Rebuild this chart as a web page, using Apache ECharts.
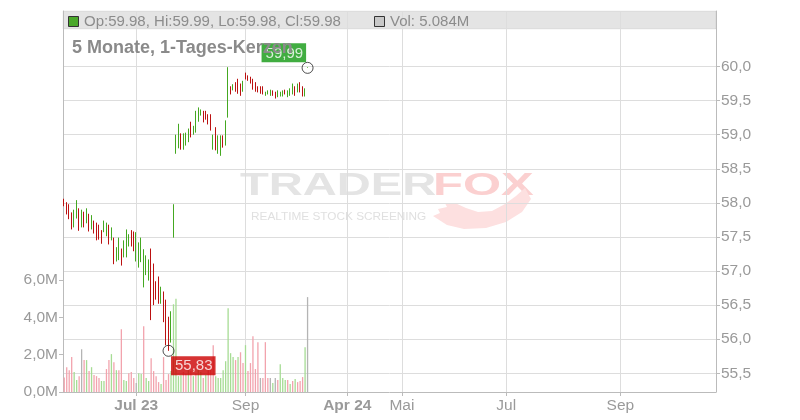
<!DOCTYPE html>
<html><head><meta charset="utf-8">
<script src="https://cdn.jsdelivr.net/npm/echarts@6/dist/echarts.min.js"></script>
<style>html,body{margin:0;padding:0;background:#fff}#c{width:800px;height:420px}</style>
</head><body><div id="c"></div>
<script>
// ---- data ----
const slotCount = 263;
const xLabelIdx = [29, 73, 114, 136, 178, 224];
const xLabelText = ['Jul 23', 'Sep', 'Apr 24', 'Mai', 'Jul', 'Sep'];
const xLabelBold = [true, false, true, false, false, false];

const opens = [
58.06,58.01,57.98,57.86,57.64,57.77,57.92,57.64,57.87,57.70,
57.84,57.61,57.74,57.71,57.68,57.60,57.57,57.51,57.68,57.45,
57.49,57.14,57.16,57.33,57.20,57.20,57.36,57.60,57.58,57.14,
57.05,57.13,56.76,56.94,56.86,57.33,57.11,56.85,56.92,56.52,
56.70,56.58,56.33,55.95,57.49,58.72,58.80,59.02,58.78,58.84,
58.89,59.19,59.00,59.03,59.19,59.28,59.35,59.35,59.30,59.30,
58.78,59.11,58.72,58.69,58.99,58.84,59.25,59.71,59.65,59.77,
59.82,59.75,59.63,59.91,59.87,59.85,59.82,59.77,59.71,59.71,
59.71,59.57,59.59,59.57,59.65,59.63,59.55,59.56,59.56,59.66,
59.55,59.57,59.59,59.71,59.62,59.77,59.71,59.56,59.98];
const closes = [
57.95,57.83,57.76,57.61,57.90,58.04,57.59,57.90,57.64,57.92,
57.58,57.82,57.55,57.45,57.46,57.40,57.74,57.71,57.39,57.64,
57.10,57.35,57.49,57.08,57.45,57.61,57.54,57.36,57.29,57.57,
57.42,57.49,57.32,57.23,57.17,56.28,56.50,56.58,56.52,56.77,
56.25,55.91,55.83,56.41,57.98,59.00,59.16,58.78,59.02,59.03,
59.09,58.96,59.13,59.35,59.40,59.37,59.18,59.22,59.15,59.06,
59.00,58.77,58.99,58.99,58.81,59.21,59.99,59.59,59.74,59.63,
59.60,59.57,59.79,59.81,59.79,59.75,59.66,59.63,59.62,59.60,
59.59,59.63,59.65,59.66,59.57,59.53,59.65,59.63,59.65,59.59,
59.65,59.68,59.75,59.57,59.75,59.62,59.56,59.68,59.98];
const lows = [
57.95,57.83,57.76,57.61,57.64,57.77,57.59,57.64,57.64,57.70,
57.58,57.61,57.55,57.45,57.46,57.40,57.57,57.51,57.39,57.45,
57.10,57.14,57.16,57.08,57.20,57.20,57.36,57.36,57.29,57.14,
57.05,57.13,56.76,56.94,56.86,56.28,56.50,56.58,56.52,56.52,
56.25,55.91,55.83,55.95,57.49,58.72,58.80,58.78,58.78,58.84,
58.89,58.96,59.00,59.03,59.19,59.28,59.18,59.22,59.15,59.06,
58.78,58.77,58.72,58.69,58.81,58.84,59.25,59.59,59.65,59.63,
59.60,59.57,59.63,59.81,59.79,59.75,59.66,59.63,59.62,59.60,
59.59,59.57,59.59,59.57,59.57,59.53,59.55,59.56,59.56,59.59,
59.55,59.57,59.59,59.57,59.62,59.62,59.56,59.56,59.98];
const highs = [
58.06,58.01,57.98,57.86,57.90,58.04,57.92,57.90,57.87,57.92,
57.84,57.82,57.74,57.71,57.68,57.60,57.74,57.71,57.68,57.64,
57.49,57.35,57.49,57.33,57.45,57.61,57.54,57.60,57.58,57.57,
57.42,57.49,57.32,57.23,57.17,57.33,57.11,56.85,56.92,56.77,
56.70,56.58,56.33,56.41,57.98,59.00,59.16,59.02,59.02,59.03,
59.09,59.19,59.13,59.35,59.40,59.37,59.35,59.35,59.30,59.30,
59.00,59.11,58.99,58.99,58.99,59.21,59.99,59.71,59.74,59.77,
59.82,59.75,59.79,59.91,59.87,59.85,59.82,59.77,59.71,59.71,
59.71,59.63,59.65,59.66,59.65,59.63,59.65,59.63,59.65,59.66,
59.65,59.68,59.75,59.71,59.75,59.77,59.71,59.68,59.99];
// volume in millions
const volumes = [
0.78,1.33,1.17,1.87,1.07,0.64,0.85,2.29,1.71,1.71,
1.12,1.33,0.91,0.85,0.75,0.59,0.59,1.23,1.71,2.03,
1.60,1.17,1.17,3.36,0.64,0.59,1.01,1.07,0.75,0.48,
1.01,0.96,3.52,0.75,0.59,1.81,1.12,0.85,0.53,0.43,
1.87,0.64,0.96,1.12,4.70,5.00,0.85,0.90,1.07,0.96,
1.17,1.12,0.85,1.01,1.23,1.07,0.75,0.91,1.17,1.39,
2.51,0.85,0.75,0.75,1.17,1.65,4.48,2.08,1.87,1.71,
1.87,2.13,1.55,2.51,1.12,1.55,2.99,1.23,2.67,0.75,
0.75,2.67,0.75,0.75,0.48,0.75,0.64,1.49,0.75,0.64,
0.64,0.43,0.59,0.69,0.53,0.59,0.80,2.40,5.084];
// 1 = up (green), -1 = down (red), 0 = unchanged (gray)
const volDir = [
-1,-1,-1,-1,1,1,-1,0,-1,1,
-1,1,-1,-1,-1,1,1,-1,-1,1,
-1,1,-1,-1,1,1,-1,-1,-1,0,
1,1,-1,1,1,-1,-1,-1,-1,1,
-1,-1,-1,1,1,1,1,1,-1,-1,
1,-1,1,-1,1,1,-1,1,-1,-1,
-1,1,1,1,1,1,1,1,1,-1,
1,-1,-1,1,-1,-1,-1,-1,-1,0,
-1,-1,-1,0,1,0,-1,1,1,1,
-1,1,-1,1,-1,-1,-1,1,0];
const priceTicks = { min: 55.5, max: 60.0, step: 0.5 };
const volTicks = { min: 0, max: 6, step: 2 };
const lastIdx = 98, lastClose = 59.98, maxValue = 59.99;
const minIdx = 42, minValue = 55.83;
const headerTitle = '5 Monate, 1-Tages-Kerzen';

// ---- chart ----
const FONT = 'Liberation Sans, Arial, sans-serif';
const cats = Array.from({length: slotCount}, (_, i) => String(i));
const labelPos = {};
xLabelIdx.forEach((idx, k) => { labelPos[idx] = k; });
const isLabel = (i) => labelPos[i] !== undefined;
const fmtDe = (v, d) => v.toFixed(d).replace('.', ',');

const L = 63, R = 84;
const GREEN = '#44a821', RED = '#bb1111';
const volColors = { '1': '#a6dc94', '-1': '#f2a3ad', '0': '#b4b4b4' };
const AX_FS = 15.5;

const n = opens.length;
const headerText = 'Op:' + opens[n-1].toFixed(2) + ', Hi:' + highs[n-1].toFixed(2) +
  ', Lo:' + lows[n-1].toFixed(2) + ', Cl:' + closes[n-1].toFixed(2);
const volText = 'Vol: ' + volumes[n-1].toFixed(3) + 'M';

const chart = echarts.init(document.getElementById('c'), null, {renderer: 'canvas'});
const hiddenX = (g) => ({type: 'category', gridIndex: g, data: cats, boundaryGap: true, show: false});

chart.setOption({
  animation: false,
  backgroundColor: '#fff',
  textStyle: {fontFamily: FONT},
  title: {
    text: headerTitle, left: 72, top: 39, padding: 0, z: 20,
    textStyle: {fontFamily: FONT, fontSize: 18, fontWeight: 'bold', color: '#8a8a8a'}
  },
  grid: [
    {left: L, right: R, top: 11, bottom: 28},
    {left: L, right: R, top: 66.5, bottom: 46.7},
    {left: L, right: R, top: 280, bottom: 28}
  ],
  xAxis: [
    {
      type: 'category', gridIndex: 0, data: cats, boundaryGap: true,
      axisLine: {show: true, lineStyle: {color: '#bbbbbb'}},
      axisTick: {show: true, alignWithLabel: true, length: 4, interval: (i) => isLabel(i), lineStyle: {color: '#bbbbbb'}},
      axisLabel: {
        interval: (i) => isLabel(i), color: '#9a9a9a', fontSize: AX_FS, fontFamily: FONT, margin: 6,
        formatter: (v, i) => {
          const k = labelPos[i];
          if (k === undefined) return '';
          return xLabelBold[k] ? '{b|' + xLabelText[k] + '}' : xLabelText[k];
        },
        rich: {b: {fontWeight: 'bold', color: '#9a9a9a', fontSize: AX_FS, fontFamily: FONT}}
      },
      splitLine: {show: true, alignWithLabel: true, interval: (i) => isLabel(i), lineStyle: {color: '#dddddd'}}
    },
    hiddenX(1), hiddenX(2)
  ],
  yAxis: [
    {type: 'value', gridIndex: 0, position: 'left', min: 0, max: 1,
     axisLine: {show: true, lineStyle: {color: '#bbbbbb'}}, axisTick: {show: false}, axisLabel: {show: false}, splitLine: {show: false}},
    {type: 'value', gridIndex: 0, position: 'right', min: 0, max: 1,
     axisLine: {show: true, lineStyle: {color: '#bbbbbb'}}, axisTick: {show: false}, axisLabel: {show: false}, splitLine: {show: false}},
    {type: 'value', gridIndex: 1, position: 'right', min: priceTicks.min, max: priceTicks.max, interval: priceTicks.step,
     axisLine: {show: false}, axisTick: {show: true, length: 4, lineStyle: {color: '#bbbbbb'}},
     axisLabel: {color: '#9a9a9a', fontSize: AX_FS, fontFamily: FONT, margin: 5, formatter: (v) => fmtDe(v, 1)},
     splitLine: {show: true, lineStyle: {color: '#dddddd'}}},
    {type: 'value', gridIndex: 2, position: 'left', min: volTicks.min, max: volTicks.max, interval: volTicks.step,
     axisLine: {show: false}, axisTick: {show: true, length: 4, lineStyle: {color: '#bbbbbb'}},
     axisLabel: {color: '#9a9a9a', fontSize: AX_FS, fontFamily: FONT, margin: 5, formatter: (v) => fmtDe(v, 1) + 'M'},
     splitLine: {show: false}}
  ],
  graphic: [
    {type: 'rect', z: -1, shape: {x: L, y: 11, width: 800 - L - R, height: 18},
     style: {fill: 'rgba(0,0,0,0.105)', stroke: 'rgba(0,0,0,0.06)', lineWidth: 1}},
    {type: 'rect', z: 50, shape: {x: 68.5, y: 16.5, width: 10, height: 10},
     style: {fill: '#4aa82a', stroke: '#333', lineWidth: 1}},
    {type: 'text', z: 50, x: 84, y: 22, style: {text: headerText, font: '15px ' + FONT, fill: '#8c8c8c', verticalAlign: 'middle'}},
    {type: 'rect', z: 50, shape: {x: 374.5, y: 16.5, width: 10, height: 10},
     style: {fill: '#c8c8c8', stroke: '#333', lineWidth: 1}},
    {type: 'text', z: 50, x: 390, y: 22, style: {text: volText, font: '15px ' + FONT, fill: '#8c8c8c', verticalAlign: 'middle'}},
    // watermark
    {type: 'text', z: -2, x: 240, y: 186, scaleX: 1.52, style: {text: 'TRADER', font: 'bold 31px ' + FONT, fill: '#e4e4e4', verticalAlign: 'middle'}},
    {type: 'text', z: -2, x: 433, y: 186, scaleX: 1.58, style: {text: 'FOX', font: 'bold 31px ' + FONT, fill: '#fbd0d0', verticalAlign: 'middle'}},
    {type: 'text', z: -2, x: 251, y: 217, scaleX: 1.18, style: {text: 'REALTIME STOCK SCREENING', font: '10px ' + FONT, fill: '#e0e0e0', verticalAlign: 'middle'}},
    {type: 'polygon', z: -2, shape: {points: [[433,216],[440,213],[438,209],[447,207],[445,203],[455,203],[466,208],[478,212],[492,211],[505,204],[516,196],[525,188],[531,199],[522,212],[506,222],[486,228],[464,229],[447,225]]},
     style: {fill: '#fde0e0'}}
  ],
  series: [
    {
      type: 'bar', xAxisIndex: 2, yAxisIndex: 3, barWidth: 1.3, silent: true,
      data: volumes.map((v, i) => ({value: v, itemStyle: {color: volColors[String(volDir[i])]}}))
    },
    {
      type: 'candlestick', xAxisIndex: 1, yAxisIndex: 2, barWidth: 1, silent: true,
      itemStyle: {color: GREEN, color0: RED, borderColor: GREEN, borderColor0: RED, borderColorDoji: GREEN, borderWidth: 1},
      data: opens.map((o, i) => [o, closes[i], lows[i], highs[i]])
    },
    {
      type: 'scatter', xAxisIndex: 1, yAxisIndex: 2, symbol: 'circle', symbolSize: 11, z: 5, silent: true,
      itemStyle: {color: 'rgba(255,255,255,0)', borderColor: '#222', borderWidth: 1},
      data: [
        {value: [lastIdx, lastClose], label: {show: true, position: [-40, -18.5], formatter: fmtDe(maxValue, 2),
          backgroundColor: '#129812', color: '#fff', fontSize: 15, fontFamily: FONT, padding: [2, 3, 1, 4], lineHeight: 16}},
        {value: [minIdx, minValue], label: {show: true, position: [8.5, 11.5], formatter: fmtDe(minValue, 2),
          backgroundColor: '#cc0000', color: '#fff', fontSize: 15, fontFamily: FONT, padding: [2, 3, 1, 4], lineHeight: 16}}
      ]
    }
  ]
});
</script></body></html>
